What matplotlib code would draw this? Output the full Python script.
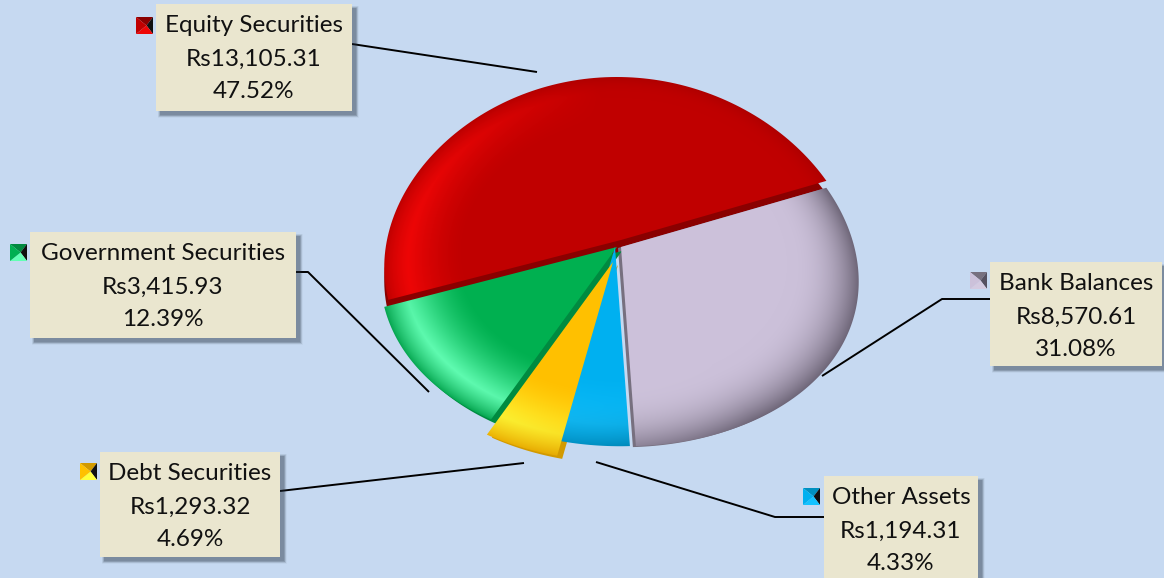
import numpy as np
import matplotlib
matplotlib.use('Agg')
import matplotlib.pyplot as plt
from matplotlib.patches import Polygon, Rectangle

# clockwise from the start angle
names = ['Bank Balances', 'Other Assets', 'Debt Securities', 'Government Securities', 'Equity Securities']
amounts = ['Rs8,570.61', 'Rs1,194.31', 'Rs1,293.32', 'Rs3,415.93', 'Rs13,105.31']
percents = [31.08, 4.33, 4.69, 12.39, 47.52]

W, H = 1164, 578
BG = '#C6D9F1'
START = 24.0
# tilt of the pie: radii, perspective, lean and droop
A, B, K, S, D = 236.0, 179.3, 0.1, 0.02, 13.0

colors = {
    'Bank Balances': ('#CCC1DA', '#D4CAE0', '#6E6678', '#77707F'),
    'Other Assets': ('#00B0F0', '#14C2FF', '#005F80', '#0090C0'),
    'Debt Securities': ('#FFC000', '#FFFF3C', '#C88C00', '#D29A00'),
    'Government Securities': ('#00B050', '#62FFB4', '#00773A', '#008A40'),
    'Equity Securities': ('#C00000', '#EE0606', '#8E0000', '#8A0000'),
}
# slice centre in pixels, side wall shift in pixels
centres = {
    'Bank Balances': (621, 247),
    'Other Assets': (615, 247),
    'Debt Securities': (613, 262),
    'Government Securities': (617, 247),
    'Equity Securities': (621, 240),
}
walls = {
    'Bank Balances': (-3, 1),
    'Other Assets': (0, 0),
    'Debt Securities': (5, 3),
    'Government Securities': (5, 4),
    'Equity Securities': (0, 13),
}
# light direction in degrees, rim darkening strength, rim width
lighting = {
    'Bank Balances': (-150, 1.0, 0.30),
    'Other Assets': (-130, 1.0, 0.28),
    'Debt Securities': (-150, 0.9, 0.22),
    'Government Securities': (-140, 0.8, 0.18),
    'Equity Securities': (-175, 0.35, 0.14),
}
boxes = {
    'Equity Securities': (156, 4, 196, 107),
    'Government Securities': (30, 232, 266, 106),
    'Debt Securities': (100, 452, 180, 105),
    'Bank Balances': (990, 262, 172, 104),
    'Other Assets': (824, 476, 154, 110),
}
keys = {
    'Equity Securities': (136, 17),
    'Government Securities': (10, 244),
    'Debt Securities': (80, 463),
    'Bank Balances': (970, 272),
    'Other Assets': (803, 488),
}
leaders = {
    'Equity Securities': ([352, 537], [44, 72]),
    'Government Securities': ([296, 308, 429], [272, 272, 392]),
    'Debt Securities': ([280, 524], [491, 463]),
    'Bank Balances': ([990, 942, 822], [299, 299, 376]),
    'Other Assets': ([824, 775, 596], [517, 517, 462]),
}


def outline(a1, a2, cx, cy):
    t = np.radians(np.linspace(a1, a2, 120))
    x = np.concatenate([[0], np.cos(t)])
    y = np.concatenate([[0], np.sin(t)])
    w = 1 + K * y
    return np.column_stack([cx + A * (x - S * y) / w, cy - B * y / w + D * x * x])


def shade(name, cx, cy):
    base, light, dark, wall = colors[name]
    base, light, dark = [np.array(matplotlib.colors.to_rgb(c)) for c in (base, light, dark)]
    ang, strength, width = lighting[name]
    xx, yy = np.meshgrid(np.arange(W) + 0.5, np.arange(H) + 0.5)
    # walk back from pixels to the flat disc
    x = (xx - cx) / A
    y = (cy - yy) / B
    for i in range(5):
        up = cy - yy + D * x * x
        y = up / (B - K * up)
        x = (xx - cx) * (1 + K * y) / A + S * y
    r = np.hypot(x, y)
    th = np.arctan2(y, x)
    lit = np.clip(np.cos(th - np.radians(ang)), 0, 1)
    glow = (np.clip((r - 0.66) / 0.24, 0, 1) ** 1.5 * np.clip((1.0 - r) / 0.1, 0, 1) ** 0.6 * lit)[..., None]
    s = np.clip((r - (1 - width)) / width, 0, 1)
    edge = (strength * s ** 2.5 * (0.3 + 0.7 * (1 - lit)))[..., None]
    img = base + glow * (light - base)
    img = img + edge * (dark - img)
    return np.clip(img, 0, 1)


fig = plt.figure(figsize=(W / 100, H / 100), dpi=100, facecolor=BG)
ax = fig.add_axes([0, 0, 1, 1])
ax.set_facecolor(BG)
ax.axis('off')

# start and end angle of each slice
ends = START - np.cumsum(percents) * 3.6
starts = np.concatenate([[START], ends[:-1]])
angles = dict(zip(names, zip(starts, ends)))

for name in ['Equity Securities', 'Bank Balances', 'Government Securities', 'Other Assets', 'Debt Securities']:
    a1, a2 = angles[name]
    cx, cy = centres[name]
    dx, dy = walls[name]
    if dx or dy:
        ax.add_patch(Polygon(outline(a1, a2, cx + dx, cy + dy), fc=colors[name][3], ec='none', zorder=2))
    if name == 'Equity Securities':
        ax.add_patch(Polygon([(cx - 3, cy), (cx + 5, cy), (cx + 5, cy + 32), (cx - 1, cy + 14)],
                             fc=colors[name][3], ec='none', zorder=2))
    clip = Polygon(outline(a1, a2, cx, cy), fc='none', ec='none', transform=ax.transData)
    ax.add_patch(clip)
    im = ax.imshow(shade(name, cx, cy), extent=(0, W, H, 0), aspect='auto', zorder=3, interpolation='bilinear')
    im.set_clip_path(clip)

ax.set_xlim(0, W)
ax.set_ylim(H, 0)

for name, amount, pct in zip(names, amounts, percents):
    x, y, w, h = boxes[name]
    xs, ys = leaders[name]
    ax.plot(xs, ys, color='black', lw=1.4, zorder=4, solid_capstyle='butt')
    for grow, alpha in zip([5, 4, 3, 2, 1, 0], [0.04, 0.06, 0.08, 0.1, 0.12, 0.14]):
        ax.add_patch(Rectangle((x + 4 - grow / 2, y + 4 - grow / 2), w + grow, h + grow,
                               fc='#1F2A3A', ec='none', alpha=alpha, zorder=5))
    ax.add_patch(Rectangle((x, y), w, h, fc='#EAE6CF', ec='none', zorder=6))
    ax.text(x + w / 2, y + 22, name, ha='center', va='center', family='Lato', fontsize=17.5, color='#111111', zorder=7)
    ax.text(x + w / 2, y + 55, amount, ha='center', va='center', family='Lato', fontsize=17.5, color='#111111', zorder=7)
    ax.text(x + w / 2, y + 87, f'{pct:.2f}%', ha='center', va='center', family='Lato', fontsize=17.5, color='#111111', zorder=7)

    # small pyramid legend key
    kx, ky = keys[name]
    k = 17
    mid = (kx + k * 0.62, ky + k * 0.5)
    corners = [(kx, ky), (kx + k, ky), (kx + k, ky + k), (kx, ky + k)]
    main, light, dark, wall = colors[name]
    for i, c in enumerate([wall, '#101010' if name != 'Bank Balances' else '#555060', light, main]):
        ax.add_patch(Polygon([corners[i], corners[(i + 1) % 4], mid], fc=c, ec='none', zorder=7))

fig.savefig('out.png', dpi=100, facecolor=BG)
